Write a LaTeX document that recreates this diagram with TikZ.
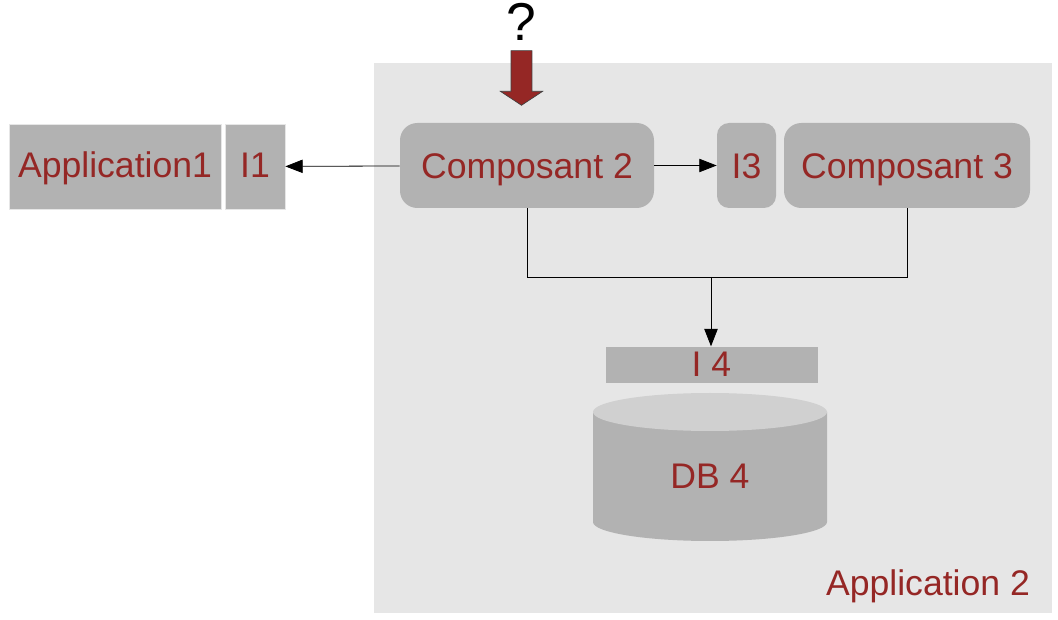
\documentclass[tikz,border=0pt]{standalone}
\usepackage{fontspec}
\setmainfont{Liberation Sans}
\usetikzlibrary{arrows.meta,shapes.arrows}

\definecolor{boxgray}{HTML}{B2B2B2}
\definecolor{zonegray}{HTML}{E6E6E6}
\definecolor{topgray}{HTML}{D0D0D0}
\definecolor{labelred}{HTML}{952725}

\tikzstyle{label} = [text=labelred, font=\fontsize{26.7}{30}\selectfont, text height=19.1pt, text depth=0pt]
\tikzstyle{block} = [rectangle, label, draw=zonegray, line width=0.5pt, fill=boxgray, inner sep=0pt]
\tikzstyle{composant} = [block, draw=none, rounded corners=13pt, minimum height=63.75pt]
\tikzstyle{arrow} = [line width=0.6pt,-{Triangle[length=13pt,width=10pt]}]
\tikzstyle{line} = [line width=0.6pt]

\begin{document}
\begin{tikzpicture}[x=0.75pt,y=-0.75pt]
\useasboundingbox (0,0) rectangle (1058,620);

\fill[zonegray] (374,63) rectangle (1052,613);

\node (app1) [block, minimum width=159pt, minimum height=63.75pt] at (115,166.5) {\raisebox{1pt}{Application1}};
\node (i1) [block, minimum width=45pt, minimum height=63.75pt] at (255,166.5) {\raisebox{1pt}{I1}};
\node (comp2) [composant, minimum width=190.5pt] at (527,165.5) {Composant 2};
\node (i3) [composant, rounded corners=9pt, minimum width=44.25pt] at (746.5,165.5) {I3};
\node (comp3) [composant, minimum width=184.5pt] at (907,165.5) {Composant 3};
\node (i4) [block, minimum width=160pt, minimum height=27.5pt] at (711.5,365) {\raisebox{1pt}{I 4}};

% cylinder
\fill[boxgray] (593,412) -- (593,522) arc[start angle=180, end angle=0, x radius=117, y radius=19] -- (827,412) -- cycle;
\fill[topgray] (710,412) ellipse[x radius=117, y radius=19];
\node (db) [label] at (710,476) {DB 4};

\node (app2) [label] at (928,583) {Application 2};

\node (question) [inner sep=0pt, font=\fontsize{40}{40}\selectfont, text height=29pt, text depth=0pt] at (521,21) {?};
\node (pointer) [single arrow, shape border rotate=270, draw=black!75, line width=0.5pt, fill=labelred, inner sep=7.6pt, minimum height=41pt, single arrow head extend=8pt, single arrow tip angle=113] at (521.5,74.5) {};

\coordinate (merge) at (711,277);

\draw [arrow] (comp2) -- (i1);
\draw [arrow] (comp2) -- (i3);
\draw [line] (comp2.south) -- (comp2.south |- merge) -- (comp3.south |- merge) -- (comp3.south);
\draw [arrow] (merge) -- (merge |- i4.north);

\end{tikzpicture}
\end{document}
